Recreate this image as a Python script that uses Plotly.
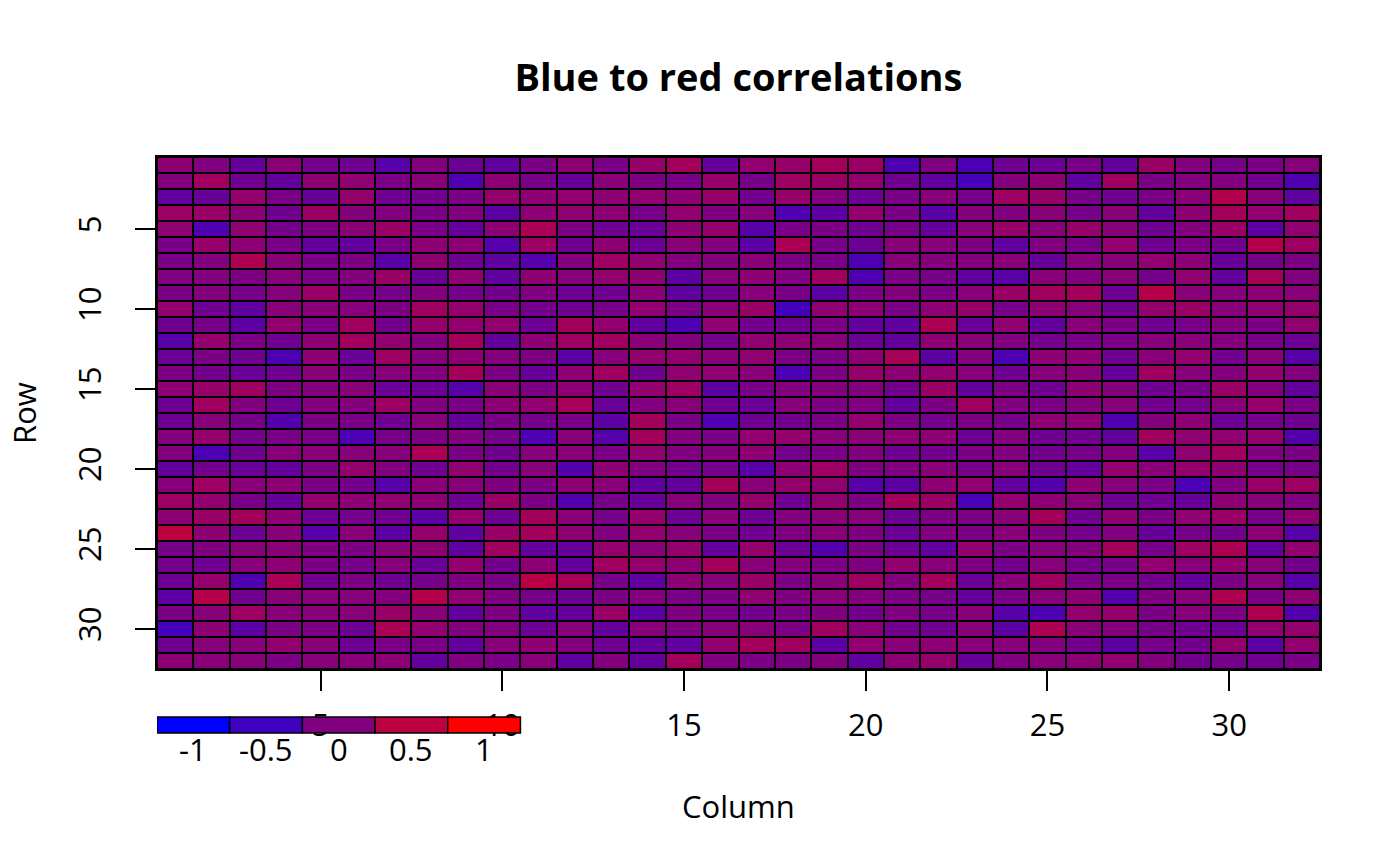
import plotly.graph_objects as go

# correlation values, row 1 at the top, column 1 at the left
rows = list(range(1, 33))
columns = list(range(1, 33))

values = [
    [0.1, 0.0, -0.2, 0.08, -0.08, -0.12, -0.32, 0.02, -0.15, -0.23, -0.04, 0.1, -0.05, 0.18, 0.28, -0.2, 0.14, 0.18, 0.28, 0.2, -0.4, 0.0, -0.4, -0.12, -0.15, -0.05, -0.22, 0.2, 0.02, -0.07, -0.04, 0.05],
    [0.02, 0.25, -0.12, -0.22, 0.1, 0.12, -0.05, 0.05, -0.38, 0.1, -0.07, -0.2, 0.07, -0.02, -0.05, 0.17, -0.07, 0.23, 0.2, 0.14, -0.12, -0.25, -0.45, 0.03, 0.1, -0.25, 0.25, -0.04, 0.02, 0.02, -0.1, -0.38],
    [-0.25, -0.18, 0.15, -0.05, -0.18, 0.15, -0.12, -0.1, -0.04, 0.15, 0.1, 0.14, 0.1, 0.13, 0.1, 0.18, -0.1, 0.18, 0.02, -0.17, -0.05, 0.05, -0.07, 0.23, 0.18, -0.07, -0.12, -0.05, 0.07, 0.4, 0.05, -0.25],
    [0.22, 0.2, 0.08, -0.12, 0.2, 0.03, 0.0, -0.05, 0.02, -0.27, 0.1, 0.12, 0.1, -0.07, 0.14, -0.02, 0.05, -0.38, -0.27, 0.14, -0.04, -0.3, 0.03, 0.0, 0.07, -0.08, 0.07, -0.22, 0.1, 0.28, 0.14, 0.26],
    [0.12, -0.38, 0.12, -0.08, -0.02, 0.08, 0.2, -0.05, -0.22, 0.1, 0.33, -0.03, -0.12, -0.17, 0.1, 0.16, -0.32, -0.05, -0.03, -0.12, -0.07, -0.2, 0.05, 0.18, 0.05, 0.18, 0.05, -0.13, 0.02, 0.2, -0.27, 0.12],
    [-0.06, 0.17, 0.1, -0.04, -0.22, -0.22, -0.05, 0.1, 0.1, -0.33, 0.23, -0.12, 0.1, -0.15, 0.07, 0.02, -0.28, 0.33, -0.07, -0.15, 0.07, 0.05, -0.03, -0.25, 0.0, -0.07, 0.14, -0.13, -0.04, -0.1, 0.4, 0.23],
    [-0.04, 0.0, 0.35, 0.07, -0.05, -0.03, -0.32, 0.1, -0.12, -0.25, -0.33, 0.02, 0.23, 0.12, 0.02, 0.03, 0.07, -0.03, -0.05, -0.4, 0.05, 0.03, 0.02, 0.07, -0.2, 0.05, 0.07, 0.14, 0.1, -0.2, -0.08, -0.03],
    [0.0, 0.0, -0.02, 0.05, -0.06, 0.02, 0.2, -0.18, 0.12, -0.25, 0.1, 0.05, 0.14, 0.1, -0.28, 0.05, 0.1, 0.0, 0.25, -0.38, -0.04, -0.07, -0.25, -0.32, 0.07, 0.0, 0.07, -0.08, 0.12, -0.22, 0.3, 0.0],
    [-0.03, 0.03, -0.07, 0.04, 0.2, -0.06, -0.08, 0.02, -0.08, -0.1, 0.0, -0.15, -0.13, 0.07, -0.25, -0.12, 0.05, -0.05, -0.27, -0.03, 0.03, -0.04, 0.07, 0.2, 0.25, 0.28, -0.15, 0.43, 0.07, 0.05, 0.1, 0.07],
    [0.14, -0.12, -0.25, 0.07, 0.05, 0.05, -0.02, 0.25, 0.15, -0.05, -0.1, -0.13, -0.07, 0.13, -0.03, 0.07, 0.2, -0.48, 0.12, 0.1, -0.04, 0.1, 0.18, -0.08, 0.1, 0.05, -0.12, 0.16, 0.2, 0.05, 0.12, 0.15],
    [-0.12, -0.07, -0.28, 0.14, -0.05, 0.25, -0.1, 0.18, 0.14, 0.14, -0.15, 0.28, 0.13, -0.25, -0.4, 0.12, -0.1, -0.13, -0.03, -0.22, -0.25, 0.35, -0.17, 0.12, -0.22, 0.07, -0.03, -0.13, -0.07, 0.02, -0.03, 0.12],
    [-0.32, 0.15, -0.04, -0.12, 0.1, 0.25, 0.14, 0.02, 0.28, -0.22, 0.1, 0.23, 0.25, 0.07, 0.03, -0.08, 0.12, 0.1, 0.07, -0.15, -0.22, 0.1, 0.07, 0.0, -0.08, -0.05, -0.04, 0.05, 0.07, 0.02, -0.07, -0.15],
    [-0.17, -0.04, -0.12, -0.4, 0.1, -0.17, 0.22, 0.03, 0.1, 0.02, -0.02, -0.27, 0.05, 0.13, 0.14, 0.05, 0.12, -0.03, -0.05, 0.1, 0.3, -0.27, 0.02, -0.4, 0.1, 0.1, -0.13, 0.07, 0.14, -0.1, 0.05, -0.32],
    [-0.02, -0.1, -0.17, -0.12, 0.07, -0.06, 0.05, 0.02, 0.28, -0.03, -0.2, 0.1, 0.25, -0.13, 0.13, 0.12, 0.07, -0.4, -0.03, 0.18, 0.1, 0.14, 0.05, -0.13, 0.05, 0.07, -0.2, 0.25, 0.05, 0.03, 0.14, 0.02],
    [0.1, 0.18, 0.25, -0.02, 0.03, 0.07, -0.17, -0.17, -0.32, 0.07, -0.03, 0.1, -0.12, 0.13, 0.23, -0.27, -0.05, 0.02, 0.03, 0.02, -0.1, 0.2, -0.22, -0.03, -0.12, 0.1, 0.03, -0.13, -0.08, 0.2, 0.02, -0.22],
    [-0.14, 0.25, 0.0, -0.15, 0.02, 0.03, 0.23, 0.0, -0.04, 0.1, 0.13, 0.3, -0.17, 0.02, 0.07, -0.13, -0.17, 0.05, -0.03, 0.0, -0.22, -0.03, 0.25, 0.0, -0.04, 0.03, 0.07, -0.1, -0.08, 0.05, 0.17, -0.04],
    [-0.12, 0.05, -0.07, -0.35, -0.03, -0.05, -0.13, 0.05, -0.2, -0.04, -0.08, -0.04, -0.28, 0.28, -0.04, -0.38, -0.13, -0.1, -0.03, 0.14, -0.03, -0.08, -0.03, -0.07, 0.1, 0.1, -0.38, 0.03, 0.1, -0.15, -0.08, -0.12],
    [0.0, 0.16, -0.08, -0.04, -0.05, -0.4, -0.07, -0.03, 0.0, -0.08, -0.38, 0.07, -0.32, 0.28, 0.0, -0.04, 0.14, 0.15, 0.07, 0.07, 0.1, 0.1, -0.15, 0.0, -0.13, -0.12, -0.22, 0.25, 0.12, 0.12, 0.14, -0.35],
    [0.03, -0.4, -0.12, 0.07, 0.07, 0.05, 0.05, 0.33, -0.04, -0.13, 0.05, 0.07, -0.05, 0.12, 0.0, 0.03, 0.1, -0.08, -0.04, 0.02, -0.13, -0.1, -0.03, 0.0, -0.1, -0.07, 0.03, -0.3, 0.12, 0.25, 0.0, -0.04],
    [-0.22, -0.1, -0.17, -0.22, -0.03, 0.16, 0.0, -0.13, 0.12, -0.1, 0.05, -0.35, 0.1, 0.0, -0.1, -0.08, -0.32, 0.1, 0.23, -0.01, 0.0, 0.07, -0.08, 0.07, -0.13, -0.22, 0.14, 0.07, 0.15, 0.1, -0.08, -0.07],
    [0.05, 0.23, 0.07, 0.1, -0.03, -0.1, -0.32, 0.07, 0.05, -0.01, -0.03, 0.1, 0.07, -0.25, -0.22, 0.28, 0.07, 0.16, 0.12, -0.32, -0.28, 0.1, 0.14, -0.22, -0.35, 0.1, 0.05, -0.04, -0.4, 0.0, 0.2, 0.23],
    [0.23, 0.14, -0.05, -0.2, 0.14, 0.1, 0.12, 0.1, -0.12, 0.2, -0.03, -0.35, -0.07, -0.2, 0.05, 0.0, 0.15, -0.13, 0.12, -0.03, 0.28, 0.2, -0.43, 0.14, 0.1, 0.07, -0.13, -0.12, -0.2, 0.1, 0.05, 0.0],
    [0.1, 0.2, 0.28, 0.1, -0.15, -0.08, -0.12, -0.28, 0.15, -0.15, 0.28, 0.07, -0.07, 0.16, -0.15, 0.05, -0.15, 0.0, 0.07, 0.05, -0.15, -0.03, -0.03, 0.07, 0.28, -0.12, 0.1, -0.05, 0.12, 0.2, -0.07, 0.1],
    [0.48, 0.1, -0.15, 0.07, -0.32, 0.07, -0.27, 0.16, -0.25, 0.2, 0.28, 0.1, 0.0, 0.14, 0.05, -0.04, -0.13, -0.01, 0.07, -0.01, -0.17, 0.0, -0.03, 0.07, -0.01, -0.08, 0.0, -0.2, -0.07, -0.1, 0.1, -0.32],
    [-0.07, -0.01, 0.07, 0.07, -0.01, -0.03, 0.07, 0.1, -0.25, 0.25, -0.22, -0.2, 0.16, 0.07, 0.15, -0.22, 0.15, -0.15, -0.35, -0.03, -0.15, -0.25, 0.14, -0.04, 0.05, 0.03, 0.28, -0.07, 0.23, 0.35, -0.25, 0.14],
    [-0.08, -0.12, 0.05, 0.1, -0.04, -0.08, 0.05, -0.17, 0.15, -0.1, 0.1, -0.22, 0.25, 0.16, 0.1, 0.28, 0.07, 0.03, -0.03, -0.01, 0.14, 0.07, -0.01, -0.1, 0.05, -0.08, -0.07, 0.14, 0.07, 0.15, 0.07, -0.1],
    [-0.15, 0.15, -0.38, 0.33, -0.1, -0.03, -0.13, -0.07, -0.01, -0.04, 0.45, 0.3, -0.07, -0.25, 0.1, 0.05, 0.18, -0.03, 0.07, 0.23, 0.02, 0.28, -0.17, 0.07, 0.25, -0.04, -0.05, -0.1, -0.2, -0.03, 0.05, -0.32],
    [-0.28, 0.42, -0.12, 0.07, 0.05, 0.05, 0.02, 0.4, 0.12, -0.01, -0.08, -0.15, -0.03, 0.02, -0.05, -0.03, 0.12, -0.01, 0.07, 0.02, -0.04, -0.08, -0.22, -0.04, 0.05, 0.1, -0.35, -0.01, 0.05, 0.35, -0.03, 0.1],
    [-0.03, 0.05, 0.23, 0.07, 0.05, 0.07, 0.2, 0.05, -0.22, -0.01, -0.25, -0.2, 0.2, -0.27, -0.01, -0.04, -0.1, -0.04, -0.01, -0.1, 0.0, -0.07, 0.07, -0.32, -0.38, 0.14, 0.18, -0.04, 0.05, -0.03, 0.35, -0.35],
    [-0.45, 0.1, -0.28, -0.03, -0.03, -0.15, 0.33, 0.14, 0.03, 0.02, -0.15, 0.05, -0.22, 0.07, -0.01, 0.05, 0.07, -0.03, 0.25, 0.07, -0.1, -0.12, 0.07, -0.27, 0.35, 0.07, 0.03, -0.07, -0.12, -0.15, 0.14, 0.15],
    [-0.12, 0.05, 0.07, 0.14, 0.07, -0.15, -0.05, -0.05, -0.22, 0.07, 0.1, 0.03, -0.13, -0.22, -0.25, 0.14, 0.28, 0.25, -0.28, 0.14, 0.07, 0.1, 0.07, 0.05, 0.02, -0.1, -0.27, -0.07, -0.1, 0.16, -0.28, 0.14],
    [0.1, 0.07, 0.05, -0.03, 0.05, 0.07, 0.1, -0.22, 0.0, -0.05, 0.07, -0.25, 0.02, -0.22, 0.28, 0.0, -0.04, -0.03, 0.03, -0.25, 0.1, 0.15, -0.2, 0.0, 0.07, 0.1, 0.14, 0.03, -0.1, -0.08, -0.12, -0.04],
]

tick_values = [5, 10, 15, 20, 25, 30]
legend_values = [-1, -0.5, 0, 0.5, 1]
legend_labels = ["-1", "-0.5", "0", "0.5", "1"]

FONT = "Open Sans"
n_rows = len(rows)

# the page body has an 8px margin, so the figure is 16px smaller than the window
W, H = 1384, 850
PLOT_H = 512


def blue_red(v):
    # same linear blue -> red ramp as the heatmap (-1 blue, +1 red)
    t = (v + 1) / 2
    return "rgb(%d,0,%d)" % (round(255 * t), round(255 * (1 - t)))


fig = go.Figure()

fig.add_trace(go.Heatmap(
    z=values, x=columns, y=rows,
    colorscale=[[0, "#0000ff"], [1, "#ff0000"]],
    zmin=-1, zmax=1, showscale=False,
    xgap=2, ygap=2,
))

# colour legend under the plot, 2 columns wide per box, 3-4 rows below
shapes = []
annotations = []
for i, (v, lab) in enumerate(zip(legend_values, legend_labels)):
    x0 = columns[0] - 0.5 + 2 * i
    shapes.append(dict(
        type="rect", xref="x", yref="paper",
        x0=x0, x1=x0 + 2, y0=-4 / n_rows, y1=-3 / n_rows,
        fillcolor=blue_red(v), line=dict(color="black", width=1.5), layer="above",
    ))
    annotations.append(dict(
        x=x0 + 1, y=-80 / PLOT_H, xref="x", yref="paper", text=lab, showarrow=False,
        yanchor="middle", font=dict(family=FONT, size=31, color="black"),
    ))

annotations.append(dict(
    x=0.5, y=-137 / PLOT_H, xref="paper", yref="paper", text="Column",
    showarrow=False, yanchor="middle", font=dict(family=FONT, size=31, color="black"),
))
annotations.append(dict(
    x=-(157 - 24) / 1163, y=0.5, xref="paper", yref="paper", text="Row",
    showarrow=False, textangle=-90, xanchor="center",
    font=dict(family=FONT, size=31, color="black"),
))

axis_style = dict(
    tickmode="array", tickvals=tick_values, ticks="outside", ticklen=20,
    tickwidth=1.5, tickcolor="black", showgrid=False, zeroline=False,
    showline=True, mirror=True, linecolor="black", linewidth=1.5,
    tickfont=dict(family=FONT, size=31, color="black"),
)

fig.update_layout(
    width=W, height=H,
    margin=dict(l=149, r=72, t=149, b=189),
    paper_bgcolor="white", plot_bgcolor="black",
    title=dict(
        text="<b>Blue to red correlations</b>", x=0.5, xref="paper",
        y=1 - 70 / H, yref="container", yanchor="middle", xanchor="center",
        font=dict(family=FONT, size=38, color="black"),
    ),
    xaxis=dict(range=[0.5, 32.5], ticklabelstandoff=8, **axis_style),
    yaxis=dict(range=[32.5, 0.5], tickangle=-90, ticklabelstandoff=22, **axis_style),
    shapes=shapes, annotations=annotations,
    showlegend=False,
)

fig.write_html("out.html")
